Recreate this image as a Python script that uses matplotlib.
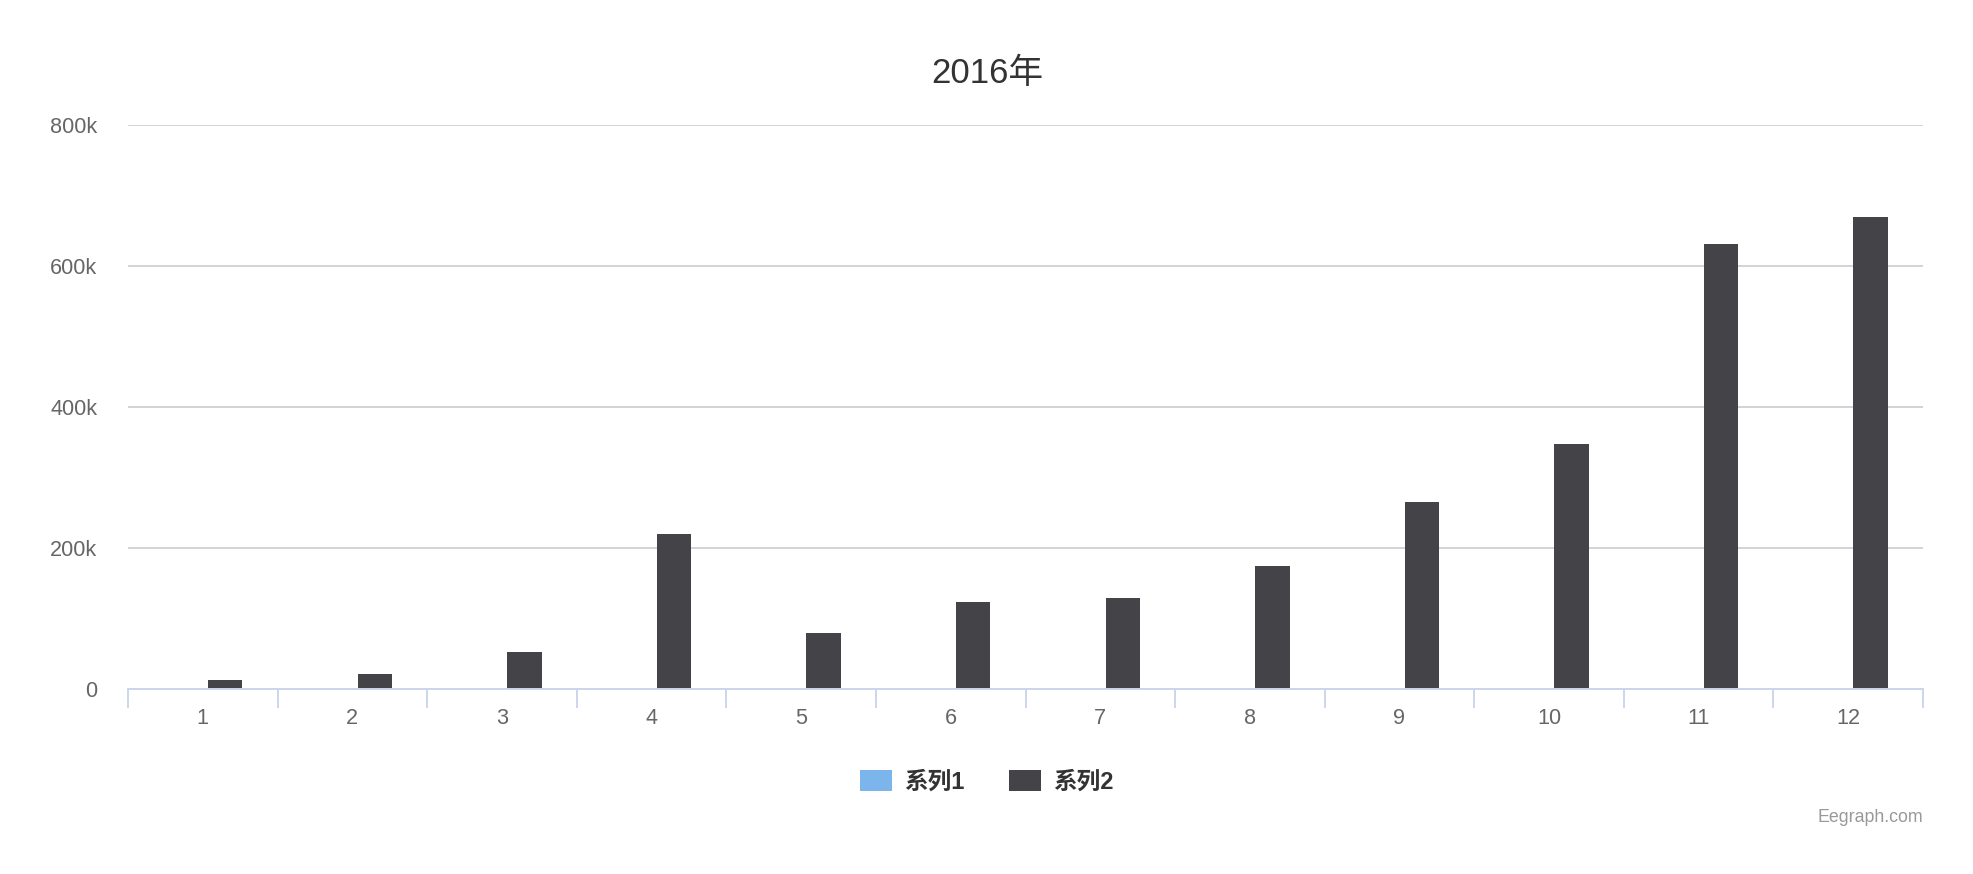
import numpy as np
import matplotlib
matplotlib.use("Agg")
import matplotlib.pyplot as plt
from matplotlib.patches import Patch

plt.rcParams['font.family'] = ['Liberation Sans', 'Noto Sans CJK SC', 'DejaVu Sans']

# Data
months = ['1', '2', '3', '4', '5', '6', '7', '8', '9', '10', '11', '12']
series1 = [0, 0, 0, 0, 0, 0, 0, 0, 0, 0, 0, 0]
series2 = [13000, 21000, 52000, 220000, 80000, 123000, 129000, 175000,
           265000, 347000, 631000, 670000]
y_ticks = [0, 200000, 400000, 600000, 800000]
y_labels = ['0', '200k', '400k', '600k', '800k']

c1 = '#7cb5ec'
c2 = '#434348'

fig = plt.figure(figsize=(19.74, 8.74), dpi=100)
ax = fig.add_axes([128 / 1974, 1 - 689 / 874, (1923 - 128) / 1974, (689 - 125) / 874])

x = np.arange(len(months))
w = 0.23
ax.bar(x - 0.15, series1, width=w, color=c1, linewidth=0, zorder=3)
ax.bar(x + 0.15, series2, width=w, color=c2, linewidth=0, zorder=3)

ax.set_xlim(-0.5, len(months) - 0.5)
ax.set_ylim(0, 800000)

# y axis: gridlines only
ax.set_yticks(y_ticks)
ax.set_yticklabels(y_labels)
ax.yaxis.grid(True, color='#d3d3d3', linewidth=1.4, zorder=0)
ax.tick_params(axis='y', length=0, pad=22, labelsize=15.6, labelcolor='#666666')

# x axis: boundary ticks, labels at centers
ax.set_xticks(np.arange(len(months) + 1) - 0.5)
ax.set_xticklabels([])
ax.tick_params(axis='x', which='major', length=14, width=1.4, color='#ccd6eb')
ax.set_xticks(x, minor=True)
ax.set_xticklabels(months, minor=True)
ax.tick_params(axis='x', which='minor', length=0, pad=13.5, labelsize=15.6, labelcolor='#666666')

for s in ['top', 'right', 'left']:
    ax.spines[s].set_visible(False)
ax.spines['bottom'].set_color('#ccd6eb')
ax.spines['bottom'].set_linewidth(1.4)
ax.spines['bottom'].set_zorder(4)

fig.text(0.5, 1 - 73 / 874, '2016年', ha='center', va='center', fontsize=25, color='#333333')

handles = [Patch(facecolor=c1, edgecolor='none', label='系列1'),
           Patch(facecolor=c2, edgecolor='none', label='系列2')]
leg = fig.legend(handles=handles, loc='center', bbox_to_anchor=(987 / 1974, 1 - 782 / 874),
                 ncol=2, frameon=False, handlelength=1.35, handleheight=1.0,
                 handletextpad=0.5, columnspacing=1.9,
                 prop={'size': 17, 'weight': 'bold'})
for t in leg.get_texts():
    t.set_color('#333333')

fig.text(1923 / 1974, 1 - 818 / 874, 'Eegraph.com', ha='right', va='center',
         fontsize=12.8, color='#999999')

fig.savefig('out.png', dpi=100)
